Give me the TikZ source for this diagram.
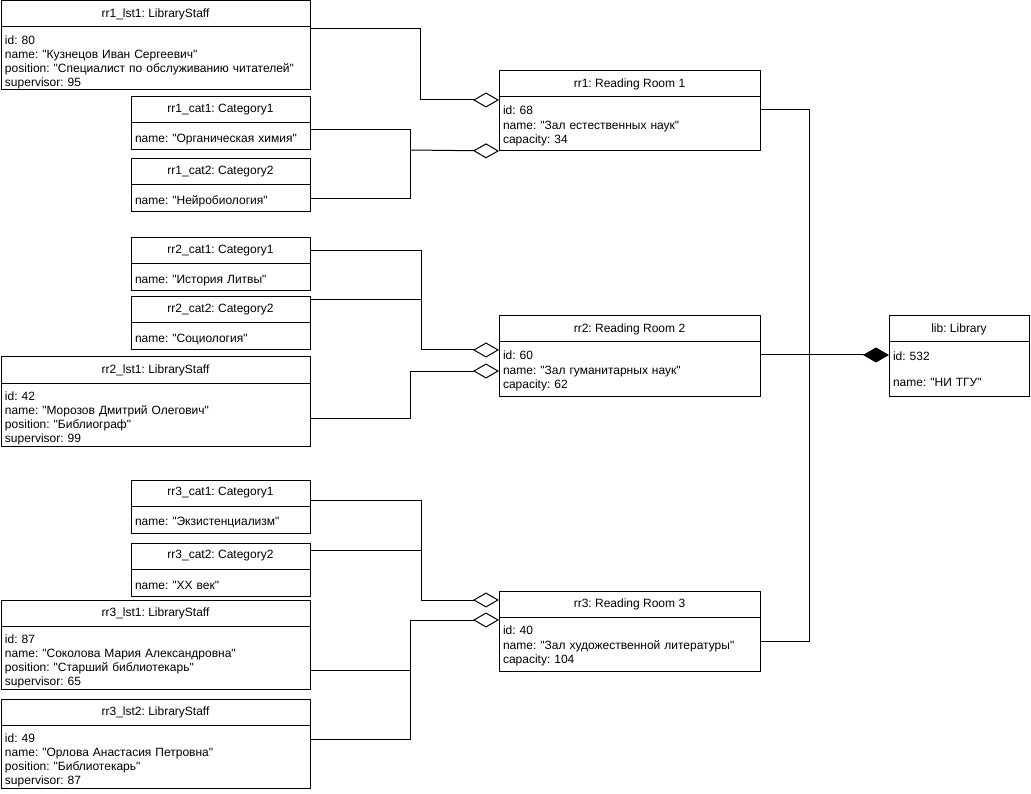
\documentclass[tikz,border=0pt]{standalone}
\usepackage{fontspec}
\setmainfont{Liberation Sans}[Ligatures=TeXOff]
\usetikzlibrary{arrows.meta,positioning}

\begin{document}
\frenchspacing
\begin{tikzpicture}[
  x=1pt, y=-1pt,
  font=\fontsize{12pt}{14.3pt}\selectfont,
  objhead/.style={draw, line width=1pt, anchor=north west, inner sep=0pt,
    outer sep=0pt, minimum height=26pt, align=center},
  objbody/.style={draw, line width=1pt, anchor=north west, inner xsep=4pt,
    inner ysep=0pt, outer sep=0pt, align=left},
  staffhead/.style={objhead, minimum width=309pt},
  staffbody/.style={objbody, text width=301pt, text height=16.5pt, minimum height=63pt},
  cathead/.style={objhead, minimum width=179pt},
  catbody/.style={objbody, text width=171pt, text height=14.5pt, minimum height=27pt},
  roomhead/.style={objhead, minimum width=261pt},
  roombody/.style={objbody, text width=253pt, text height=12.5pt, minimum height=54pt},
  libhead/.style={objhead, minimum width=140pt},
  libbody/.style={objbody, text width=132pt, minimum height=54pt},
  link/.style={line width=1pt},
  agg/.style={link, -{Diamond[fill=white, length=26pt, width=15pt]}},
  comp/.style={link, -{Diamond[length=26pt, width=15pt]}}
]
\useasboundingbox (0,0) rectangle (1031,794);

% ---------------------------------------------------------------
% Reading Room 1
% ---------------------------------------------------------------
\node[staffhead] (lst11h) at (1,1) {rr1\_lst1: LibraryStaff};
\node[staffbody] (lst11b) at (lst11h.south west) {id: 80\\
  name: "Кузнецов Иван Сергеевич"\\
  position: "Специалист по обслуживанию читателей"\\
  supervisor: 95};

\node[cathead] (cat11h) at (131,97) {rr1\_cat1: Category1};
\node[catbody] (cat11b) at (cat11h.south west) {name: "Органическая химия"};

\node[cathead] (cat12h) at (131,159) {rr1\_cat2: Category2};
\node[catbody] (cat12b) at (cat12h.south west) {name: "Нейробиология"};

\node[roomhead] (rr1h) at (499,71) {rr1: Reading Room 1};
\node[roombody] (rr1b) at (rr1h.south west) {id: 68\\
  name: "Зал естественных наук"\\
  capacity: 34};

% ---------------------------------------------------------------
% Reading Room 2
% ---------------------------------------------------------------
\node[cathead] (cat21h) at (131,238) {rr2\_cat1: Category1};
\node[catbody] (cat21b) at (cat21h.south west) {name: "История Литвы"};

\node[cathead] (cat22h) at (131,297) {rr2\_cat2: Category2};
\node[catbody] (cat22b) at (cat22h.south west) {name: "Социология"};

\node[staffhead] (lst21h) at (1,357) {rr2\_lst1: LibraryStaff};
\node[staffbody] (lst21b) at (lst21h.south west) {id: 42\\
  name: "Морозов Дмитрий Олегович"\\
  position: "Библиограф"\\
  supervisor: 99};

\node[roomhead] (rr2h) at (499,316) {rr2: Reading Room 2};
\node[roombody] (rr2b) at (rr2h.south west) {id: 60\\
  name: "Зал гуманитарных наук"\\
  capacity: 62};

% ---------------------------------------------------------------
% Reading Room 3
% ---------------------------------------------------------------
\node[cathead] (cat31h) at (131,480) {rr3\_cat1: Category1};
\node[catbody] (cat31b) at (cat31h.south west) {name: "Экзистенциализм"};

\node[cathead] (cat32h) at (131,543) {rr3\_cat2: Category2};
\node[catbody] (cat32b) at (cat32h.south west) {name: "XX век"};

\node[staffhead] (lst31h) at (1,600) {rr3\_lst1: LibraryStaff};
\node[staffbody] (lst31b) at (lst31h.south west) {id: 87\\
  name: "Соколова Мария Александровна"\\
  position: "Старший библиотекарь"\\
  supervisor: 65};

\node[staffhead] (lst32h) at (1,699) {rr3\_lst2: LibraryStaff};
\node[staffbody] (lst32b) at (lst32h.south west) {id: 49\\
  name: "Орлова Анастасия Петровна"\\
  position: "Библиотекарь"\\
  supervisor: 87};

\node[roomhead] (rr3h) at (499,591) {rr3: Reading Room 3};
\node[roombody] (rr3b) at (rr3h.south west) {id: 40\\
  name: "Зал художественной литературы"\\
  capacity: 104};

% ---------------------------------------------------------------
% Library
% ---------------------------------------------------------------
\node[libhead] (libh) at (889,316) {lib: Library};
\node[libbody] (libb) at (libh.south west) {id: 532\\[11.7pt]
  name: "НИ ТГУ"};

% ---------------------------------------------------------------
% Connectors
% ---------------------------------------------------------------
\coordinate (j1) at (410,150);
\coordinate (j2) at (421,350);
\coordinate (j3) at (421,600);
\coordinate (j4) at (410,620);

% rr1
\draw[agg] ([yshift=-2pt]lst11b.north east) -- ++(110,0) |- ([yshift=-3pt]rr1b.north west);
\draw[link] ([yshift=-7pt]cat11b.north east) -| (j1);
\draw[link] (cat12b.east) -| (j1);
\draw[agg] (j1) -- (rr1b.south west);

% rr2
\draw[link] (cat21h.east) -| (j2);
\draw[link] ([yshift=-3pt]cat22h.north east) -| (j2);
\draw[agg] (j2) -- ([yshift=-8pt]rr2b.north west);
\draw[agg] ([yshift=-4pt]lst21b.east) -- ++(100,0) |- ([yshift=-29pt]rr2b.north west);

% rr3
\draw[link] ([yshift=-7pt]cat31h.east) -| (j3);
\draw[link] ([yshift=-7pt]cat32h.north east) -| (j3);
\draw[agg] (j3) -- ([yshift=-9pt]rr3h.north west);
\draw[link] ([yshift=-12.5pt]lst31b.east) -| (j4);
\draw[link] ([yshift=-14pt]lst32b.north east) -| (j4);
\draw[agg] (j4) -- ([yshift=-3pt]rr3b.north west);

% rooms -> library
\draw[link] ([yshift=14pt]rr1b.east) -- ++(49,0) |- ([yshift=3pt]rr3b.east);
\draw[comp] ([yshift=14pt]rr2b.east) -- ([yshift=14pt]libb.west);

\end{tikzpicture}
\end{document}
